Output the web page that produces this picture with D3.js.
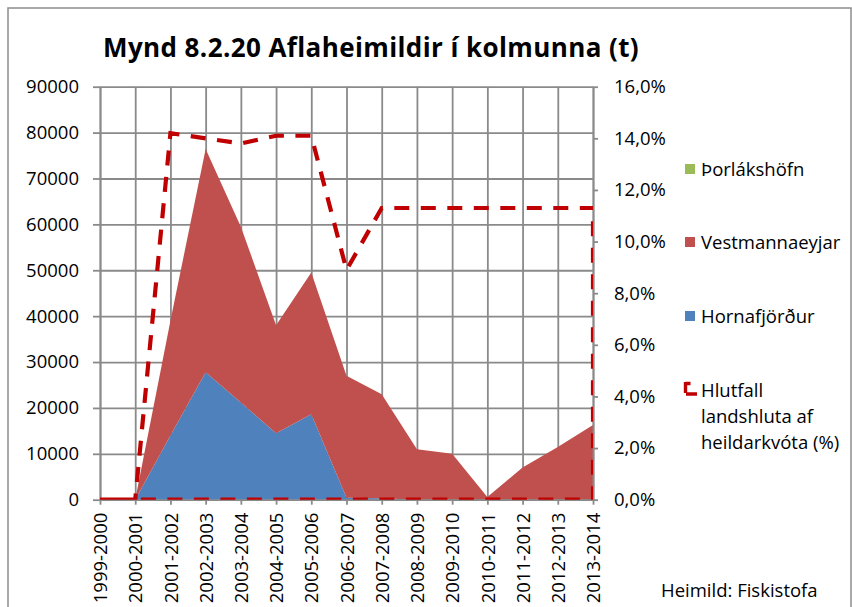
<!DOCTYPE html>
<html>
<head>
<meta charset="utf-8">
<script src="https://cdn.jsdelivr.net/npm/d3@7"></script>
<style>
  html, body { margin: 0; padding: 0; background: #fff; }
  svg { display: block; font-family: "Open Sans", "Noto Sans", sans-serif; }
</style>
</head>
<body>
<svg id="chart" width="852" height="607"></svg>
<script>
// Fishing seasons on the category axis
const seasons = ["1999-2000","2000-2001","2001-2002","2002-2003","2003-2004","2004-2005",
  "2005-2006","2006-2007","2007-2008","2008-2009","2009-2010","2010-2011","2011-2012",
  "2012-2013","2013-2014"];

// Blue whiting quota (tonnes) per port
const hornafjordur   = [0, 0, 14000, 27800, 21200, 14500, 18600, 400, 300, 0, 0, 0, 0, 0, 0];
const vestmannaeyjar = [0, 0, 25000, 48600, 38300, 23500, 30900, 26600, 22700, 11000, 10000, 600, 7000, 11500, 16300];
const thorlakshofn   = [0, 0, 0, 0, 0, 0, 0, 0, 0, 0, 0, 0, 0, 0, 0];

// Region's share of the total quota (right axis)
const hlutfall       = [0, 0, 0.142, 0.140, 0.138, 0.141, 0.141, 0.089, 0.113, 0.113, 0.113, 0.113, 0.113, 0.113, 0.113];
// Share of the remaining regions, drawn back along the baseline
const hlutfallOnnur  = [0, 0, 0, 0, 0, 0, 0, 0, 0, 0, 0, 0, 0, 0, 0];

const leftTicks  = [0, 10000, 20000, 30000, 40000, 50000, 60000, 70000, 80000, 90000];
const rightTicks = [0, 0.02, 0.04, 0.06, 0.08, 0.10, 0.12, 0.14, 0.16];

const seriesNames = ["Hornafjörður", "Vestmannaeyjar", "Þorlákshöfn"];
const seriesColors = { "Hornafjörður": "#4F81BD", "Vestmannaeyjar": "#C0504D", "Þorlákshöfn": "#9BBB59" };
const lineName = ["Hlutfall", "landshluta af", "heildarkvóta (%)"];

const svg = d3.select("#chart");
const gridColor = "#8a8a8a";
const fs = 18.5;

const plot = { left: 100, right: 593, top: 86.7, bottom: 499.7 };

const x = d3.scalePoint().domain(seasons).range([plot.left, plot.right]);
const y = d3.scaleLinear().domain([0, 90000]).range([plot.bottom, plot.top]);
const y2 = d3.scaleLinear().domain([0, 0.16]).range([plot.bottom, plot.top]);

// outer frame
svg.append("rect").attr("x", 8).attr("y", 8).attr("width", 843).attr("height", 640)
  .attr("fill", "none").attr("stroke", "#8c8c8c").attr("stroke-width", 1.5);

// title
svg.append("text").attr("x", 103).attr("y", 57)
  .attr("font-size", 26).attr("font-weight", "bold").attr("letter-spacing", 0.4).attr("fill", "#000")
  .text("Mynd 8.2.20 Aflaheimildir í kolmunna (t)");

// grid lines
const grid = svg.append("g");
grid.append("g").attr("transform", `translate(${plot.left},0)`)
  .call(d3.axisLeft(y).tickValues(leftTicks).tickSize(-(plot.right - plot.left)).tickFormat(""))
  .call(g => g.select(".domain").remove())
  .call(g => g.selectAll("line").attr("stroke", gridColor).attr("stroke-width", 1.8));
grid.append("g").attr("transform", `translate(0,${plot.bottom})`)
  .call(d3.axisBottom(x).tickSize(-(plot.bottom - plot.top)).tickFormat(""))
  .call(g => g.select(".domain").remove())
  .call(g => g.selectAll("line").attr("stroke", gridColor).attr("stroke-width", 1.8));

// stacked areas
const rows = seasons.map((s, i) => ({
  season: s,
  "Hornafjörður": hornafjordur[i],
  "Vestmannaeyjar": vestmannaeyjar[i],
  "Þorlákshöfn": thorlakshofn[i]
}));
const stacked = d3.stack().keys(seriesNames)(rows);
const area = d3.area()
  .x(d => x(d.data.season))
  .y0(d => y(d[0]))
  .y1(d => y(d[1]));
svg.append("g").selectAll("path").data(stacked).join("path")
  .attr("d", area)
  .attr("fill", d => seriesColors[d.key]);

// axes
const axisStyle = g => {
  g.selectAll(".domain").attr("stroke", gridColor).attr("stroke-width", 1.8);
  g.selectAll(".tick line").attr("stroke", gridColor).attr("stroke-width", 1.8);
  g.selectAll("text").attr("font-size", fs).attr("font-family", "Open Sans").attr("fill", "#000");
};
svg.append("g").attr("transform", `translate(${plot.left},0)`)
  .call(d3.axisLeft(y).tickValues(leftTicks).tickSize(7).tickPadding(14).tickSizeOuter(0)
    .tickFormat(d3.format("d")))
  .call(axisStyle);

const pct = d => d3.format(".1f")(d * 100).replace(".", ",") + "%";
svg.append("g").attr("transform", `translate(${plot.right},0)`)
  .call(d3.axisRight(y2).tickValues(rightTicks).tickSize(5).tickPadding(16).tickSizeOuter(0)
    .tickFormat(pct))
  .call(axisStyle);

svg.append("g").attr("transform", `translate(0,${plot.bottom})`)
  .call(d3.axisBottom(x).tickSize(5).tickSizeOuter(0))
  .call(axisStyle)
  .call(g => g.selectAll(".tick text")
    .attr("text-anchor", "end")
    .attr("transform", "translate(0,13) rotate(-90)")
    .attr("x", 0).attr("y", 0).attr("dy", "0.36em"));

// share line, clipped to the plot area
svg.append("clipPath").attr("id", "plotClip").append("rect")
  .attr("x", plot.left).attr("y", plot.top)
  .attr("width", plot.right - plot.left).attr("height", plot.bottom - plot.top);

const linePts = seasons.map((s, i) => [x(s), y2(hlutfall[i])])
  .concat(seasons.map((s, i) => [x(s), y2(hlutfallOnnur[i])]).reverse());
svg.append("path")
  .attr("clip-path", "url(#plotClip)")
  .attr("d", d3.line()(linePts))
  .attr("fill", "none")
  .attr("stroke", "#C00000")
  .attr("stroke-width", 4.2)
  .attr("stroke-dasharray", "15,11.5")
  .attr("stroke-linejoin", "miter");

// legend
const legend = svg.append("g");
const legendItems = [
  { name: "Þorlákshöfn", y: 169 },
  { name: "Vestmannaeyjar", y: 242 },
  { name: "Hornafjörður", y: 316 }
];
legendItems.forEach(it => {
  legend.append("rect").attr("x", 685).attr("y", it.y - 5).attr("width", 10).attr("height", 10)
    .attr("fill", seriesColors[it.name]);
  legend.append("text").attr("x", 701).attr("y", it.y).attr("dy", "0.36em")
    .attr("font-size", fs).attr("fill", "#000").text(it.name);
});
legend.append("path")
  .attr("d", "M685.5,383.5 H690.5 M685.5,382 V393 M686,394 H697")
  .attr("fill", "none").attr("stroke", "#C00000").attr("stroke-width", 3.4);
lineName.forEach((t, i) => {
  legend.append("text").attr("x", 701).attr("y", 390 + i * 26).attr("dy", "0.36em")
    .attr("font-size", fs).attr("fill", "#000").text(t);
});

// source note
svg.append("text").attr("x", 661).attr("y", 597)
  .attr("font-size", 18.5).attr("fill", "#000").text("Heimild: Fiskistofa");
</script>
</body>
</html>
